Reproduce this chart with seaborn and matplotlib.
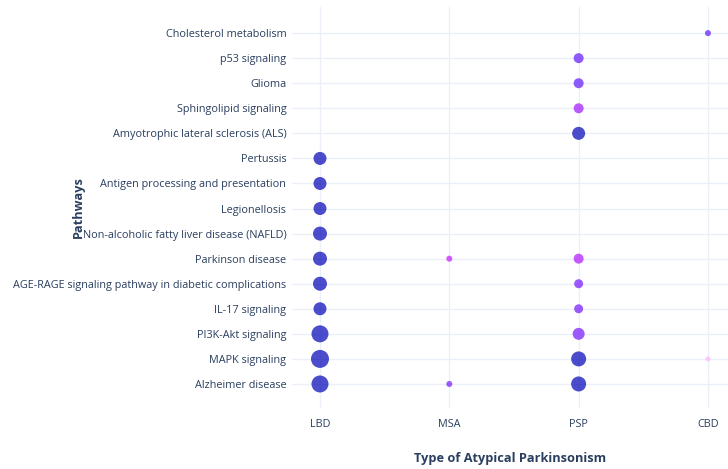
import numpy as np
import pandas as pd
import seaborn as sns
import matplotlib.pyplot as plt
from matplotlib.colors import LinearSegmentedColormap

pathways = [
    "Alzheimer disease", "MAPK signaling", "PI3K-Akt signaling", "IL-17 signaling",
    "AGE-RAGE signaling pathway in diabetic complications", "Parkinson disease",
    "Non-alcoholic fatty liver disease (NAFLD)", "Legionellosis",
    "Antigen processing and presentation", "Pertussis",
    "Amyotrophic lateral sclerosis (ALS)", "Sphingolipid signaling", "Glioma",
    "p53 signaling", "Cholesterol metabolism",
]
groups = ["LBD", "MSA", "PSP", "CBD"]

# one row per dot: pathway, group, gene count (size), score (colour)
dot_pathway = [
    "Alzheimer disease", "Alzheimer disease", "Alzheimer disease",
    "MAPK signaling", "MAPK signaling", "MAPK signaling",
    "PI3K-Akt signaling", "PI3K-Akt signaling",
    "IL-17 signaling", "IL-17 signaling",
    "AGE-RAGE signaling pathway in diabetic complications",
    "AGE-RAGE signaling pathway in diabetic complications",
    "Parkinson disease", "Parkinson disease", "Parkinson disease",
    "Non-alcoholic fatty liver disease (NAFLD)", "Legionellosis",
    "Antigen processing and presentation", "Pertussis",
    "Amyotrophic lateral sclerosis (ALS)", "Sphingolipid signaling", "Glioma",
    "p53 signaling", "Cholesterol metabolism",
]
dot_group = [
    "LBD", "MSA", "PSP",
    "LBD", "PSP", "CBD",
    "LBD", "PSP",
    "LBD", "PSP",
    "LBD", "PSP",
    "LBD", "MSA", "PSP",
    "LBD", "LBD", "LBD", "LBD",
    "PSP", "PSP", "PSP", "PSP", "CBD",
]
dot_genes = [
    8.5, 3, 7.5,
    9, 7.5, 2.5,
    8.5, 6,
    6.5, 4.5,
    7, 4.5,
    7, 3, 5,
    7, 6.5, 6.5, 6.5,
    6.5, 5, 5, 5, 3,
]
dot_score = [
    8, 5.6, 8,
    8, 8, 1.3,
    8, 5.7,
    8, 5.7,
    8, 5.7,
    8, 4.4, 4.8,
    8, 8, 8, 8,
    8, 5.0, 6.0, 6.0, 6.0,
]

df = pd.DataFrame({"pathway": dot_pathway, "group": dot_group,
                   "genes": dot_genes, "score": dot_score})
df["y"] = df["pathway"].map({p: i for i, p in enumerate(pathways)})
df["x"] = df["group"].map({g: i for i, g in enumerate(groups)})
df["area"] = (df["genes"] * 2 * 0.72) ** 2

plotly3 = ["#fec3fe", "#fea5fd", "#fc67fd", "#f246fe", "#dd2bfd", "#bf1cfd",
           "#981cfd", "#6b1cfb", "#3c19f0", "#1910d8", "#0508b8"]
cmap = LinearSegmentedColormap.from_list("plotly3", plotly3)

sns.set_style("white")
plt.rcParams["font.family"] = ["Open Sans", "DejaVu Sans"]

fig = plt.figure(figsize=(7.28, 4.69), dpi=100)
ax = fig.add_axes([0.401, 0.130, 0.599, 0.855])

sns.scatterplot(data=df, x="x", y="y", hue="score", palette=cmap, hue_norm=(1, 8),
                s=df["area"].values, alpha=0.72, linewidth=0, legend=False, ax=ax,
                zorder=3)

ax.set_xlim(-0.217, 3.155)
ax.set_ylim(-0.96, 15.04)
ax.set_xticks(range(len(groups)))
ax.set_xticklabels(groups)
ax.set_yticks(range(len(pathways)))
ax.set_yticklabels(pathways)
ax.grid(True, color="#ebf0f8", linewidth=1, zorder=0)
ax.set_axisbelow(True)
for s in ax.spines.values():
    s.set_visible(False)
ax.tick_params(axis="both", length=0, labelsize=7.85, colors="#2a3f5f")
ax.tick_params(axis="y", pad=4)
ax.tick_params(axis="x", pad=8)

ax.set_xlabel("Type of Atypical Parkinsonism", fontsize=9.2, fontweight="bold",
              color="#2a3f5f", labelpad=16)
ax.set_ylabel("Pathways", fontsize=9.2, fontweight="bold", color="#2a3f5f")
ax.yaxis.set_label_coords(-0.475, 0.5)

fig.savefig("out.png", dpi=100)
